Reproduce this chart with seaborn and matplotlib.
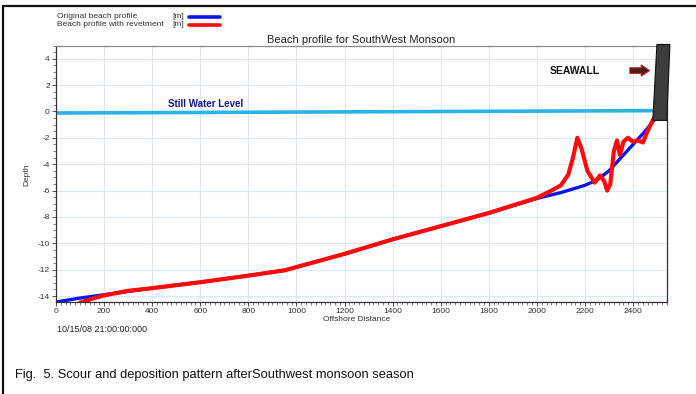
import matplotlib
matplotlib.use("Agg")
import matplotlib.pyplot as plt
from matplotlib.lines import Line2D
from matplotlib.ticker import MultipleLocator
import pandas as pd
import seaborn as sns

# original beach profile (blue)
orig_x = [0, 100, 200, 300, 400, 600, 800, 950, 1200, 1400, 1600, 1800, 2000,
          2100, 2200, 2250, 2300, 2350, 2400, 2450, 2490]
orig_y = [-14.45, -14.15, -13.9, -13.65, -13.4, -12.95, -12.45, -12.05, -10.8, -9.7,
          -8.7, -7.7, -6.6, -6.15, -5.6, -5.2, -4.5, -3.5, -2.5, -1.5, -0.6]

# profile with revetment (red)
rev_x = [100, 150, 200, 300, 400, 600, 800, 950, 1200, 1400, 1600, 1800, 2000,
         2050, 2100, 2130, 2150, 2168, 2185, 2210, 2240, 2262, 2280, 2292, 2305,
         2320, 2333, 2345, 2360, 2378, 2400, 2420, 2441, 2460, 2485]
rev_y = [-14.5, -14.2, -13.95, -13.6, -13.4, -12.95, -12.45, -12.05, -10.8, -9.7,
         -8.7, -7.7, -6.55, -6.1, -5.6, -4.8, -3.5, -2.0, -2.8, -4.5, -5.4, -4.85,
         -5.3, -6.0, -5.5, -3.0, -2.2, -3.3, -2.3, -2.0, -2.3, -2.2, -2.35, -1.5, -0.55]

# still water level
water_x = [0, 2490]
water_y = [-0.12, 0.06]

# seawall outline and labels
seawall_x = [2482, 2540, 2553, 2499]
seawall_y = [-0.68, -0.68, 5.08, 5.08]
x_ticks = list(range(0, 2401, 200))
y_ticks = list(range(-14, 5, 2))

sns.set_style("ticks")
plt.rcParams["font.family"] = ["Liberation Sans", "DejaVu Sans"]
plt.rcParams["axes.unicode_minus"] = False

fig = plt.figure(figsize=(6.96, 3.94), dpi=100)
ax = fig.add_axes([0.0805, 0.2335, 0.8775, 0.651])

orig = pd.DataFrame({"x": orig_x, "y": orig_y})
rev = pd.DataFrame({"x": rev_x, "y": rev_y})
water = pd.DataFrame({"x": water_x, "y": water_y})

sns.lineplot(data=water, x="x", y="y", ax=ax, color="#2bb3e8", lw=2.6,
             sort=False, estimator=None)
sns.lineplot(data=orig, x="x", y="y", ax=ax, color="#0a14f0", lw=2.4,
             sort=False, estimator=None)
sns.lineplot(data=rev, x="x", y="y", ax=ax, color="#ff0a0a", lw=3.0,
             sort=False, estimator=None)

ax.fill(seawall_x, seawall_y, facecolor="#3c3c3c", edgecolor="#111111",
        lw=0.8, clip_on=False, zorder=5)

ax.text(466, 0.2, "Still Water Level", color="#14148c", fontsize=7,
        fontweight="bold", ha="left", va="bottom")
ax.text(2158, 3.1, "SEAWALL", color="#111111", fontsize=7.5, fontweight="bold",
        ha="center", va="center")
ax.annotate("", xy=(2480, 3.1), xytext=(2375, 3.1),
            arrowprops=dict(arrowstyle="simple,head_width=0.8,head_length=0.6,tail_width=0.4",
                            facecolor="#4a1a1a", edgecolor="#c02020", lw=0.8))

ax.set_xlim(0, 2540)
ax.set_ylim(-14.45, 5.0)
ax.set_xticks(x_ticks)
ax.set_yticks(y_ticks)
ax.xaxis.set_minor_locator(MultipleLocator(20))
ax.yaxis.set_minor_locator(MultipleLocator(0.5))
ax.tick_params(axis="both", which="major", labelsize=6, length=3, width=0.6,
               colors="#333333", pad=1.5)
ax.tick_params(axis="both", which="minor", length=2, width=0.5, colors="#555555")
ax.grid(True, which="major", color="#dbe8f8", lw=0.8)
for side, spine in ax.spines.items():
    spine.set_color("#333333" if side in ("left", "bottom", "right") else "#888888")
    spine.set_linewidth(0.9)

ax.set_xlabel("")
ax.set_ylabel("")
ax.set_title("Beach profile for SouthWest Monsoon", fontsize=8, color="#222222", pad=2)

fig.text(27 / 696, 1 - 175 / 394, "Depth", rotation=90, fontsize=6, ha="center",
         va="center", color="#333333")
fig.text(323 / 696, 1 - 319.5 / 394, "Offshore Distance", fontsize=6, ha="left",
         va="center", color="#333333")
fig.text(57 / 696, 1 - 329 / 394, "10/15/08 21:00:00:000", fontsize=6.5, ha="left",
         va="center", color="#222222")

# legend-like header
fig.text(57 / 696, 1 - 17 / 394, "Original beach profile", fontsize=6, va="center", color="#333333")
fig.text(57 / 696, 1 - 24.5 / 394, "Beach profile with revetment", fontsize=6, va="center", color="#333333")
fig.text(172 / 696, 1 - 17 / 394, "[m]", fontsize=6, va="center", color="#333333")
fig.text(172 / 696, 1 - 24.5 / 394, "[m]", fontsize=6, va="center", color="#333333")
fig.add_artist(Line2D([189 / 696, 220 / 696], [1 - 17 / 394] * 2, color="#0a14f0", lw=2.6))
fig.add_artist(Line2D([189 / 696, 220 / 696], [1 - 24.5 / 394] * 2, color="#ff0a0a", lw=2.6))

fig.text(15 / 696, 1 - 375 / 394,
         "Fig.  5. Scour and deposition pattern afterSouthwest monsoon season",
         fontsize=9.3, ha="left", va="center", color="#111111")

# page frame
fig.add_artist(Line2D([3 / 696, 1.0], [1 - 6 / 394] * 2, color="#111111", lw=1.6))
fig.add_artist(Line2D([3 / 696, 3 / 696], [1 - 6 / 394, 0.0], color="#111111", lw=1.6))

fig.savefig("out.png", dpi=100)
